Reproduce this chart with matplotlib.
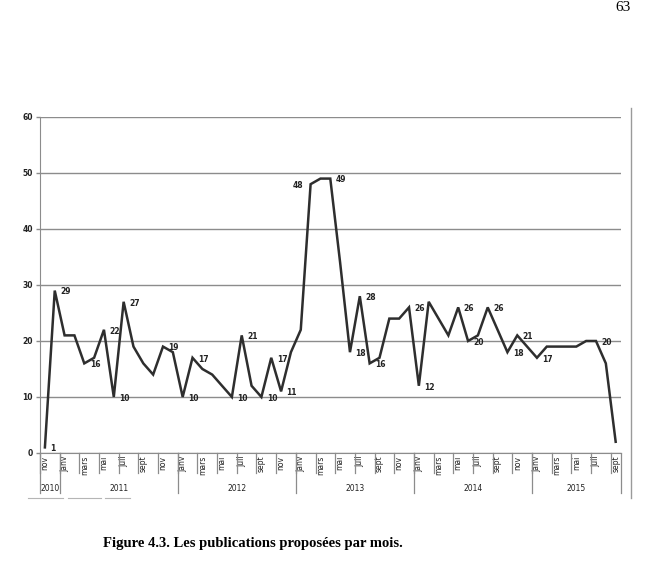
import numpy as np
import matplotlib
matplotlib.use("Agg")
import matplotlib.pyplot as plt
import matplotlib.transforms as mtransforms
from matplotlib.lines import Line2D

# monthly counts, nov 2010 -> sept 2015
months = ["nov", "déc",
          "janv", "févr", "mars", "avr", "mai", "juin", "juil", "août", "sept", "oct", "nov", "déc",
          "janv", "févr", "mars", "avr", "mai", "juin", "juil", "août", "sept", "oct", "nov", "déc",
          "janv", "févr", "mars", "avr", "mai", "juin", "juil", "août", "sept", "oct", "nov", "déc",
          "janv", "févr", "mars", "avr", "mai", "juin", "juil", "août", "sept", "oct", "nov", "déc",
          "janv", "févr", "mars", "avr", "mai", "juin", "juil", "août", "sept"]
counts = [1, 29,
          21, 21, 16, 17, 22, 10, 27, 19, 16, 14, 19, 18,
          10, 17, 15, 14, 12, 10, 21, 12, 10, 17, 11, 18,
          22, 48, 49, 49, 34, 18, 28, 16, 17, 24, 24, 26,
          12, 27, 24, 21, 26, 20, 21, 26, 22, 18, 21, 19,
          17, 19, 19, 19, 19, 20, 20, 16, 2]
years = ["2010", "2011", "2012", "2013", "2014", "2015"]
months_per_year = [2, 12, 12, 12, 12, 9]
# indices of points that carry a value label
labelled = [0, 1, 4, 6, 7, 8, 12, 14, 15, 19, 20, 22, 23, 24,
            27, 29, 31, 32, 33, 37, 38, 42, 43, 45, 47, 48, 50, 56]

x = np.arange(len(counts))

fig = plt.figure(figsize=(6.48, 5.78), dpi=100)
ax = fig.add_axes([0.0617, 0.2163, 0.896, 0.5813])

ax.plot(x, counts, color="#2e2e2e", lw=1.8, solid_joinstyle="miter", zorder=3)

for i in labelled:
    if i == 27:
        ax.annotate(str(counts[i]), (x[i], counts[i]), xytext=(-5, -1), textcoords="offset points",
                    ha="right", va="center", fontsize=5.5, fontweight="bold", color="#222222")
    else:
        ax.annotate(str(counts[i]), (x[i], counts[i]), xytext=(4, -1), textcoords="offset points",
                    ha="left", va="center", fontsize=5.5, fontweight="bold", color="#222222")

ax.set_xlim(-0.5, len(counts) - 0.5)
ax.set_ylim(0, 60)
ax.set_yticks(np.arange(0, 61, 10))
ax.yaxis.grid(True, color="#8c8c8c", lw=1.0)
ax.set_axisbelow(True)
ax.tick_params(axis="y", length=3, width=1, color="#8c8c8c", labelsize=5.5, pad=2, labelcolor="#222222")
for lab in ax.get_yticklabels():
    lab.set_fontweight("bold")

ax.spines["top"].set_visible(False)
ax.spines["right"].set_visible(False)
ax.spines["bottom"].set_color("#8c8c8c")
ax.spines["left"].set_color("#8c8c8c")

# month labels every two months
ax.set_xticks(x[::2])
ax.set_xticklabels(months[::2], rotation=90, fontsize=5.5, color="#222222")
ax.tick_params(axis="x", length=0, pad=2)

trans = mtransforms.blended_transform_factory(ax.transData, ax.transAxes)
for b in np.arange(-0.5, len(counts), 2):
    ax.plot([b, b], [0, -0.06], transform=trans, color="#8c8c8c", lw=0.9, clip_on=False)
ax.plot([len(counts) - 0.5] * 2, [0, -0.12], transform=trans, color="#8c8c8c", lw=0.9, clip_on=False)

start = -0.5
for yr, n in zip(years, months_per_year):
    ax.plot([start, start], [0, -0.12], transform=trans, color="#8c8c8c", lw=0.9, clip_on=False)
    ax.text(start + n / 2, -0.105, yr, transform=trans, ha="center", va="center",
            fontsize=5.5, color="#222222")
    start += n

# chart border remnants
fig.add_artist(Line2D([631 / 648, 631 / 648], [1 - 108 / 578, 1 - 498 / 578], color="#9a9a9a", lw=1.0))
for a, b in [(28, 63), (68, 101), (105, 130)]:
    fig.add_artist(Line2D([a / 648, b / 648], [1 - 498 / 578] * 2, color="#b5b5b5", lw=0.8))

fig.text(103 / 648, 1 - 544 / 578, "Figure 4.3. Les publications proposées par mois.",
         family="Liberation Serif", fontweight="bold", fontsize=10.5, ha="left", va="center")
fig.text(631 / 648, 1 - 1 / 578, "63", family="Liberation Serif", fontsize=11, ha="right", va="top")

fig.savefig("out.png", dpi=100)
